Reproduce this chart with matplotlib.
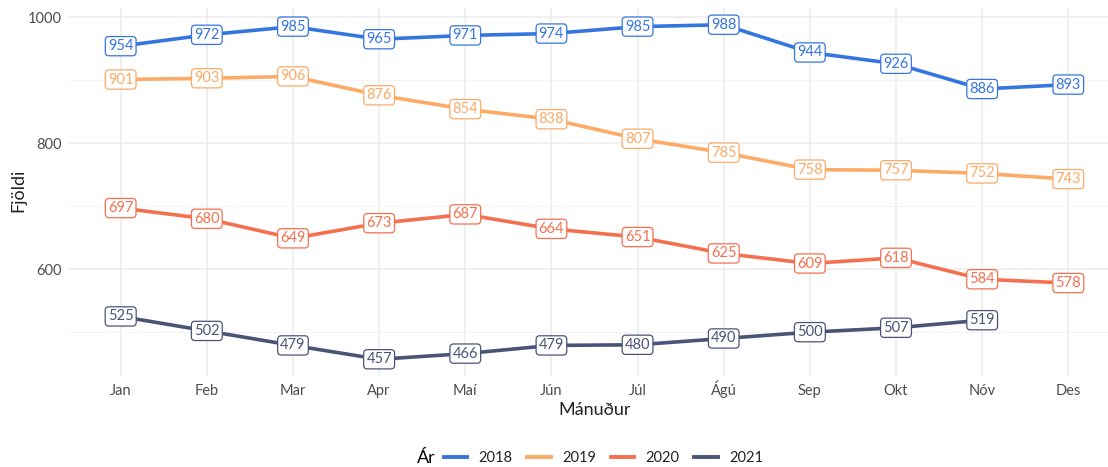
import matplotlib
matplotlib.use("Agg")
import matplotlib.pyplot as plt
from matplotlib.lines import Line2D
from matplotlib.offsetbox import HPacker

plt.rcParams['font.family'] = ['Lato', 'DejaVu Sans']

# --- data ---
months = ["Jan", "Feb", "Mar", "Apr", "Maí", "Jún", "Júl", "Ágú", "Sep", "Okt", "Nóv", "Des"]
years = ["2018", "2019", "2020", "2021"]
v2018 = [954, 972, 985, 965, 971, 974, 985, 988, 944, 926, 886, 893]
v2019 = [901, 903, 906, 876, 854, 838, 807, 785, 758, 757, 752, 743]
v2020 = [697, 680, 649, 673, 687, 664, 651, 625, 609, 618, 584, 578]
v2021 = [525, 502, 479, 457, 466, 479, 480, 490, 500, 507, 519]
colors = ["#3575de", "#fdaa66", "#f4704f", "#4a5477"]

series = [v2018, v2019, v2020, v2021]

W, H = 1108, 467
fig = plt.figure(figsize=(W / 100, H / 100), dpi=100)
# panel: x from 69px to 1120px (cropped on right), y from 8px to 376px
ax = fig.add_axes([69 / W, 1 - 376 / H, (1120 - 69) / W, (376 - 8) / H])

x = list(range(len(months)))
for vals, col in zip(series, colors):
    xs = x[:len(vals)]
    ax.plot(xs, vals, color=col, lw=2.6, solid_capstyle='butt', zorder=3)
    for xi, v in zip(xs, vals):
        ax.text(xi, v, str(v), ha='center', va='center', fontsize=10.5,
                color=col, zorder=5,
                bbox=dict(boxstyle='round,pad=0.18,rounding_size=0.25',
                          fc='white', ec=col, lw=0.9))

allv = [v for s in series for v in s]
lo, hi = min(allv), max(allv)
pad = (hi - lo) * 0.05
ax.set_ylim(lo - pad, hi + pad)
ax.set_xlim(-0.6, len(months) - 1 + 0.6)

ax.set_xticks(x)
ax.set_xticklabels(months)
ax.set_yticks([600, 800, 1000])
ax.set_yticks([500, 700, 900], minor=True)
ax.grid(True, which='major', color='#ebebeb', lw=1.1, zorder=0)
ax.grid(True, which='minor', axis='y', color='#f2f2f2', lw=0.6, zorder=0)
ax.tick_params(which='both', length=0, labelsize=10.5, labelcolor='#4d4d4d', pad=5)
ax.tick_params(axis='x', pad=13.5)
for lab in ax.get_xticklabels():
    lab.set_verticalalignment('baseline')
for s in ax.spines.values():
    s.set_visible(False)

ax.set_xlabel("Mánuður", fontsize=13, color='#222222', labelpad=3)
fig.text(18 / W, 1 - 190 / H, "Fjöldi", rotation=90, ha='center', va='center',
         fontsize=13, color='#222222')

handles = [Line2D([0], [0], color=c, lw=2.8) for c in colors]
leg = fig.legend(handles, years, loc='center', bbox_to_anchor=(590 / W, 1 - 458 / H),
                 ncol=4, frameon=False, fontsize=10.5, title="Ár", title_fontsize=13,
                 handlelength=1.6, handletextpad=0.8, columnspacing=1.0)
# put title inline with entries
title_box = leg._legend_title_box
body = leg._legend_box._children[1]
leg._legend_box._children = [HPacker(children=[title_box, body], align='center', pad=0, sep=6)]
for t in leg.get_texts():
    t.set_color('#222222')

fig.savefig("out.png", dpi=100, facecolor='white')
